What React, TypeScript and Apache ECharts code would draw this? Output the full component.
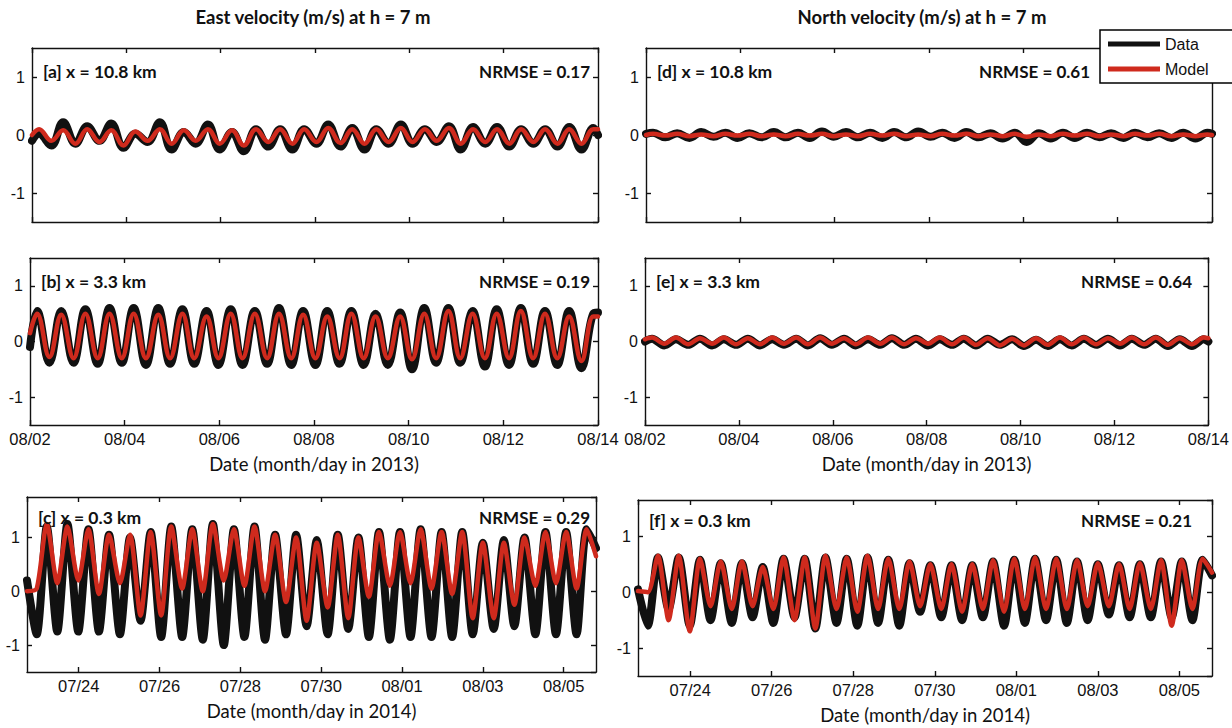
import React, { useEffect, useRef } from 'react';
import * as echarts from 'echarts';

// ---------- tick labels ----------
const TICKS_2013 = ['08/02', '08/04', '08/06', '08/08', '08/10', '08/12', '08/14'];
const TICKS_2014 = ['07/24', '07/26', '07/28', '07/30', '08/01', '08/03', '08/05'];

// ---------- times of read extrema (days after 2013-08-02 00:00) ----------
// order: start, P, T, P, T, ... , P, end
const T2013 = [
  0,
  0.15, 0.41, 0.66, 0.92, 1.17, 1.43, 1.68, 1.94, 2.19, 2.45,
  2.71, 2.96, 3.22, 3.47, 3.73, 3.98, 4.24, 4.49, 4.75, 5.01,
  5.26, 5.52, 5.77, 6.03, 6.28, 6.54, 6.79, 7.05, 7.30, 7.56,
  7.82, 8.07, 8.33, 8.58, 8.84, 9.09, 9.35, 9.61, 9.86, 10.12,
  10.37, 10.63, 10.88, 11.14, 11.39, 11.65, 11.90,
  12,
];

// [a] east, x = 10.8 km
const A_DATA = [
  -0.1,
  0.02, -0.18, 0.22, -0.15, 0.15, -0.1, 0.2, -0.22, 0.02, -0.12,
  0.22, -0.25, 0.05, -0.15, 0.18, -0.25, 0.05, -0.28, 0.1, -0.2,
  0.1, -0.25, 0.1, -0.15, 0.18, -0.2, 0.12, -0.25, 0.1, -0.15,
  0.18, -0.15, 0.1, -0.12, 0.15, -0.25, 0.14, -0.15, 0.14, -0.2,
  0.1, -0.15, 0.1, -0.2, 0.14, -0.25, 0.12,
  0.0,
];
const A_MODEL = [
  0.0,
  0.1, -0.1, 0.08, -0.15, 0.1, -0.12, 0.08, -0.18, 0.06, -0.1,
  0.1, -0.15, 0.08, -0.1, 0.1, -0.15, 0.08, -0.18, 0.1, -0.12,
  0.1, -0.15, 0.1, -0.12, 0.12, -0.14, 0.1, -0.15, 0.1, -0.12,
  0.12, -0.12, 0.1, -0.1, 0.12, -0.15, 0.1, -0.12, 0.1, -0.15,
  0.1, -0.12, 0.1, -0.15, 0.1, -0.15, 0.1,
  0.1,
];

// [b] east, x = 3.3 km
const B_DATA = [
  -0.1,
  0.55, -0.38, 0.55, -0.38, 0.58, -0.4, 0.6, -0.38, 0.6, -0.42,
  0.6, -0.4, 0.58, -0.4, 0.55, -0.42, 0.58, -0.42, 0.55, -0.4,
  0.6, -0.42, 0.55, -0.42, 0.55, -0.4, 0.55, -0.42, 0.5, -0.42,
  0.52, -0.5, 0.6, -0.38, 0.6, -0.38, 0.55, -0.45, 0.58, -0.42,
  0.6, -0.4, 0.55, -0.42, 0.55, -0.48, 0.5,
  0.52,
];
const B_MODEL = [
  0.15,
  0.5, -0.28, 0.48, -0.3, 0.5, -0.3, 0.5, -0.3, 0.5, -0.3,
  0.48, -0.3, 0.5, -0.3, 0.45, -0.3, 0.5, -0.3, 0.5, -0.3,
  0.5, -0.3, 0.48, -0.3, 0.45, -0.3, 0.5, -0.3, 0.45, -0.3,
  0.45, -0.32, 0.5, -0.3, 0.55, -0.3, 0.5, -0.3, 0.5, -0.3,
  0.55, -0.3, 0.5, -0.3, 0.45, -0.35, 0.45,
  0.45,
];

// [d] north, x = 10.8 km
const D_DATA = [
  0.02,
  0.04, -0.04, 0.03, -0.05, 0.05, -0.03, 0.04, -0.05, 0.03, -0.04,
  0.05, -0.04, 0.04, -0.05, 0.06, -0.03, 0.05, -0.04, 0.04, -0.05,
  0.05, -0.04, 0.06, -0.03, 0.04, -0.05, 0.05, -0.04, 0.03, -0.06,
  0.04, -0.12, 0.03, -0.06, 0.04, -0.05, 0.04, -0.04, 0.03, -0.05,
  0.04, -0.04, 0.03, -0.05, 0.04, -0.06, 0.04,
  0.02,
];
const D_MODEL = [
  0.0,
  0.02, -0.01, 0.02, -0.02, 0.01, -0.02, 0.02, -0.01, 0.02, -0.02,
  0.01, -0.02, 0.02, -0.01, 0.02, -0.02, 0.01, -0.02, 0.02, -0.01,
  0.02, -0.02, 0.01, -0.02, 0.02, -0.01, 0.02, -0.02, 0.01, -0.02,
  0.02, -0.03, 0.01, -0.02, 0.02, -0.01, 0.02, -0.02, 0.01, -0.02,
  0.02, -0.01, 0.02, -0.02, 0.01, -0.02, 0.01,
  0.0,
];

// [e] north, x = 3.3 km
const E_DATA = [
  0.0,
  0.05, -0.07, 0.04, -0.06, 0.05, -0.07, 0.04, -0.06, 0.05, -0.07,
  0.04, -0.06, 0.05, -0.07, 0.06, -0.06, 0.05, -0.07, 0.04, -0.06,
  0.06, -0.06, 0.05, -0.07, 0.04, -0.06, 0.05, -0.07, 0.05, -0.06,
  0.04, -0.08, 0.03, -0.08, 0.04, -0.07, 0.05, -0.06, 0.05, -0.07,
  0.05, -0.06, 0.05, -0.08, 0.04, -0.08, 0.04,
  0.0,
];
const E_MODEL = [
  0.04,
  0.07, -0.04, 0.07, -0.05, 0.06, -0.04, 0.07, -0.05, 0.06, -0.05,
  0.07, -0.04, 0.07, -0.05, 0.07, -0.04, 0.06, -0.05, 0.07, -0.04,
  0.07, -0.05, 0.06, -0.04, 0.07, -0.05, 0.07, -0.06, 0.06, -0.07,
  0.05, -0.07, 0.06, -0.06, 0.07, -0.05, 0.07, -0.05, 0.06, -0.04,
  0.07, -0.05, 0.07, -0.06, 0.06, -0.05, 0.07,
  0.06,
];

// ---------- times of read extrema (days after 2014-07-22 00:00) ----------
// order: start, T, P, T, P, ... , P, end
const T2014 = [
  0.72,
  0.96, 1.21, 1.47, 1.72, 1.99, 2.24, 2.50, 2.75, 3.02, 3.27,
  3.53, 3.78, 4.04, 4.29, 4.56, 4.81, 5.07, 5.32, 5.59, 5.84,
  6.10, 6.35, 6.61, 6.86, 7.13, 7.38, 7.64, 7.89, 8.16, 8.41,
  8.67, 8.92, 9.18, 9.43, 9.70, 9.95, 10.21, 10.46, 10.73, 10.98,
  11.24, 11.49, 11.75, 12.00, 12.27, 12.52, 12.78, 13.03, 13.30, 13.55,
  13.81, 14.06, 14.32, 14.57,
  14.80,
];

// [c] east, x = 0.3 km
const C_DATA = [
  0.2,
  -0.8, 1.2, -0.75, 1.25, -0.75, 1.15, -0.75, 1.05, -0.8, 1.0,
  -0.55, 1.1, -0.85, 1.2, -0.85, 1.15, -0.9, 1.25, -1.0, 1.15,
  -0.85, 1.2, -0.9, 1.05, -0.8, 1.05, -0.65, 0.95, -0.8, 1.05,
  -0.7, 1.0, -0.85, 1.1, -0.9, 1.1, -0.85, 1.15, -0.85, 1.1,
  -0.85, 1.1, -0.8, 0.9, -0.7, 0.95, -0.65, 1.0, -0.8, 1.1,
  -0.8, 1.1, -0.8, 1.15,
  0.8,
];
const C_MODEL = [
  0.0,
  0.05, 1.25, 0.15, 1.2, 0.2, 1.15, -0.05, 1.05, 0.15, 1.05,
  -0.45, 1.1, -0.45, 1.2, 0.05, 1.15, 0.0, 1.25, 0.2, 1.15,
  0.1, 1.2, 0.0, 1.05, -0.2, 1.0, -0.55, 0.9, -0.3, 1.05,
  -0.5, 1.0, -0.1, 1.1, 0.1, 1.1, 0.15, 1.15, 0.05, 1.1,
  -0.05, 1.1, -0.5, 0.9, -0.5, 0.9, -0.25, 1.0, 0.1, 1.1,
  0.15, 1.1, 0.05, 1.15,
  0.65,
];

// [f] north, x = 0.3 km
const F_DATA = [
  0.05,
  -0.6, 0.62, -0.3, 0.62, -0.6, 0.58, -0.5, 0.52, -0.55, 0.52,
  -0.45, 0.45, -0.55, 0.6, -0.45, 0.6, -0.65, 0.62, -0.55, 0.6,
  -0.6, 0.62, -0.55, 0.58, -0.6, 0.52, -0.35, 0.48, -0.45, 0.48,
  -0.5, 0.48, -0.45, 0.55, -0.6, 0.58, -0.55, 0.6, -0.5, 0.58,
  -0.55, 0.55, -0.5, 0.5, -0.4, 0.48, -0.45, 0.5, -0.45, 0.55,
  -0.45, 0.55, -0.5, 0.58,
  0.3,
];
const F_MODEL = [
  0.02,
  0.0, 0.65, -0.5, 0.65, -0.7, 0.6, -0.25, 0.55, -0.3, 0.55,
  -0.25, 0.45, -0.3, 0.62, -0.5, 0.62, -0.65, 0.65, -0.3, 0.62,
  -0.35, 0.65, -0.3, 0.6, -0.3, 0.55, -0.25, 0.5, -0.3, 0.5,
  -0.35, 0.5, -0.3, 0.57, -0.35, 0.6, -0.3, 0.62, -0.3, 0.6,
  -0.3, 0.57, -0.25, 0.52, -0.25, 0.5, -0.3, 0.52, -0.3, 0.57,
  -0.6, 0.57, -0.3, 0.6,
  0.35,
];

// ---------- layout (pixels) ----------
type Panel = {
  label: string;
  nrmse: string;
  nrmseRight: number;
  grid: { left: number; top: number; width: number; height: number };
  yMin: number;
  yMax: number;
  year: 2013 | 2014;
  showX: boolean;
  times: number[];
  data: number[];
  model: number[];
  smooth: number;
};

const PANELS: Panel[] = [
  { label: '[a] x = 10.8 km', nrmse: 'NRMSE = 0.17', nrmseRight: 590, grid: { left: 32, top: 48, width: 566, height: 174 }, yMin: -1.5, yMax: 1.5, year: 2013, showX: false, times: T2013, data: A_DATA, model: A_MODEL, smooth: 0.4 },
  { label: '[b] x = 3.3 km', nrmse: 'NRMSE = 0.19', nrmseRight: 590, grid: { left: 30, top: 258, width: 568, height: 167 }, yMin: -1.5, yMax: 1.5, year: 2013, showX: true, times: T2013, data: B_DATA, model: B_MODEL, smooth: 0.4 },
  { label: '[c] x = 0.3 km', nrmse: 'NRMSE = 0.29', nrmseRight: 590, grid: { left: 27, top: 497, width: 569, height: 175 }, yMin: -1.5, yMax: 1.75, year: 2014, showX: true, times: T2014, data: C_DATA, model: C_MODEL, smooth: 0.25 },
  { label: '[d] x = 10.8 km', nrmse: 'NRMSE = 0.61', nrmseRight: 1090, grid: { left: 646, top: 48, width: 566, height: 174 }, yMin: -1.5, yMax: 1.5, year: 2013, showX: false, times: T2013, data: D_DATA, model: D_MODEL, smooth: 0.4 },
  { label: '[e] x = 3.3 km', nrmse: 'NRMSE = 0.64', nrmseRight: 1192, grid: { left: 645, top: 258, width: 567, height: 167 }, yMin: -1.5, yMax: 1.5, year: 2013, showX: true, times: T2013, data: E_DATA, model: E_MODEL, smooth: 0.3 },
  { label: '[f] x = 0.3 km', nrmse: 'NRMSE = 0.21', nrmseRight: 1192, grid: { left: 638, top: 500, width: 574, height: 176 }, yMin: -1.5, yMax: 1.65, year: 2014, showX: true, times: T2014, data: F_DATA, model: F_MODEL, smooth: 0.25 },
];

const DATA_COLOR = '#111111';
const MODEL_COLOR = '#cf2a1d';
const TICK_FONT = 'Liberation Sans';
const TEXT_FONT = 'Lato';

function xLabel(year: number, v: number): string {
  const r = Math.round(v);
  if (Math.abs(v - r) > 1e-6 || r % 2 !== 0) return '';
  if (year === 2013) return TICKS_2013[r / 2] ?? '';
  return TICKS_2014[r / 2 - 1] ?? '';
}

function buildOption() {
  const grid: any[] = [];
  const xAxis: any[] = [];
  const yAxis: any[] = [];
  const series: any[] = [];
  const graphic: any[] = [];

  const lineStyle = { color: '#111', width: 1.4 };
  const tick = { show: true, inside: true, length: 5, lineStyle: { color: '#111', width: 1.4 } };

  PANELS.forEach((p, i) => {
    grid.push({ ...p.grid });
    const xRange = p.year === 2013 ? { min: 0, max: 12, interval: 2 } : { min: 0.72, max: 14.8, minInterval: 2, maxInterval: 2 };
    const yearName = p.year === 2013 ? 'Date (month/day in 2013)' : 'Date (month/day in 2014)';
    xAxis.push({
      type: 'value', gridIndex: i, position: 'bottom', ...xRange,
      axisLine: { show: true, onZero: false, lineStyle }, axisTick: tick, splitLine: { show: false },
      axisLabel: {
        show: p.showX, margin: 5, fontFamily: TICK_FONT, fontSize: 16.5, color: '#111',
        showMinLabel: p.year === 2013, showMaxLabel: p.year === 2013,
        formatter: (v: number) => xLabel(p.year, v),
      },
      name: p.showX ? yearName : '', nameLocation: 'middle', nameGap: 29,
      nameTextStyle: { fontFamily: TEXT_FONT, fontSize: 18.5, color: '#111' },
    });
    xAxis.push({
      type: 'value', gridIndex: i, position: 'top', ...xRange,
      axisLine: { show: true, onZero: false, lineStyle }, axisTick: tick, splitLine: { show: false },
      axisLabel: { show: false },
    });
    const yRange = { min: p.yMin, max: p.yMax, minInterval: 1, maxInterval: 1 };
    yAxis.push({
      type: 'value', gridIndex: i, position: 'left', ...yRange,
      axisLine: { show: true, onZero: false, lineStyle }, axisTick: tick, splitLine: { show: false },
      axisLabel: {
        margin: 7, fontFamily: TICK_FONT, fontSize: 16, color: '#111',
        showMinLabel: false, showMaxLabel: false,
        formatter: (v: number) => (Math.abs(v - Math.round(v)) < 1e-6 ? String(Math.round(v)) : ''),
      },
    });
    yAxis.push({
      type: 'value', gridIndex: i, position: 'right', ...yRange,
      axisLine: { show: true, onZero: false, lineStyle }, axisTick: tick, splitLine: { show: false },
      axisLabel: { show: false },
    });

    series.push({
      type: 'line', name: 'Data', xAxisIndex: 2 * i, yAxisIndex: 2 * i,
      data: p.times.map((t, j) => [t, p.data[j]]),
      showSymbol: false, smooth: p.smooth, silent: true, z: 2,
      lineStyle: { color: DATA_COLOR, width: 8, join: 'round', cap: 'round' },
      itemStyle: { color: DATA_COLOR },
    });
    series.push({
      type: 'line', name: 'Model', xAxisIndex: 2 * i, yAxisIndex: 2 * i,
      data: p.times.map((t, j) => [t, p.model[j]]),
      showSymbol: false, smooth: p.smooth, silent: true, z: 3,
      lineStyle: { color: MODEL_COLOR, width: 4.5, join: 'round', cap: 'round' },
      itemStyle: { color: MODEL_COLOR },
    });

    const ty = p.grid.top + (p.year === 2014 ? 20 : 23);
    graphic.push({
      type: 'text', x: p.grid.left + 11, y: ty, z: 100,
      style: { text: p.label, font: `bold 17.5px ${TEXT_FONT}`, fill: '#111', align: 'left', verticalAlign: 'middle', textAlign: 'left', textVerticalAlign: 'middle' },
    });
    graphic.push({
      type: 'text', x: p.nrmseRight, y: ty, z: 100,
      style: { text: p.nrmse, font: `bold 17px ${TEXT_FONT}`, fill: '#111', align: 'right', verticalAlign: 'middle', textAlign: 'right', textVerticalAlign: 'middle' },
    });
  });

  graphic.push({
    type: 'text', x: 313, y: 17, z: 100,
    style: { text: 'East velocity (m/s) at h = 7 m', font: `bold 18.5px ${TEXT_FONT}`, fill: '#111', align: 'center', verticalAlign: 'middle', textAlign: 'center', textVerticalAlign: 'middle' },
  });
  graphic.push({
    type: 'text', x: 922, y: 17, z: 100,
    style: { text: 'North velocity (m/s) at h = 7 m', font: `bold 18.5px ${TEXT_FONT}`, fill: '#111', align: 'center', verticalAlign: 'middle', textAlign: 'center', textVerticalAlign: 'middle' },
  });

  return {
    animation: false,
    backgroundColor: '#ffffff',
    grid, xAxis, yAxis, series, graphic,
    legend: {
      data: ['Data', 'Model'], left: 1100, top: 30, orient: 'vertical',
      icon: 'rect', itemWidth: 52, itemHeight: 5, itemGap: 9,
      padding: [6, 60, 6, 8], borderColor: '#000', borderWidth: 1.5, backgroundColor: '#ffffff',
      selectedMode: false, z: 50,
      textStyle: { fontFamily: TICK_FONT, fontSize: 16, color: '#111' },
    },
  };
}

export default function App() {
  const ref = useRef<HTMLDivElement>(null);
  useEffect(() => {
    if (!ref.current) return;
    const chart = echarts.init(ref.current, null, { renderer: 'svg' });
    chart.setOption(buildOption() as any);
    return () => chart.dispose();
  }, []);
  return (
    <div
      ref={ref}
      style={{ position: 'absolute', left: 0, top: 0, width: 1232, height: 728, background: '#fff' }}
    />
  );
}
